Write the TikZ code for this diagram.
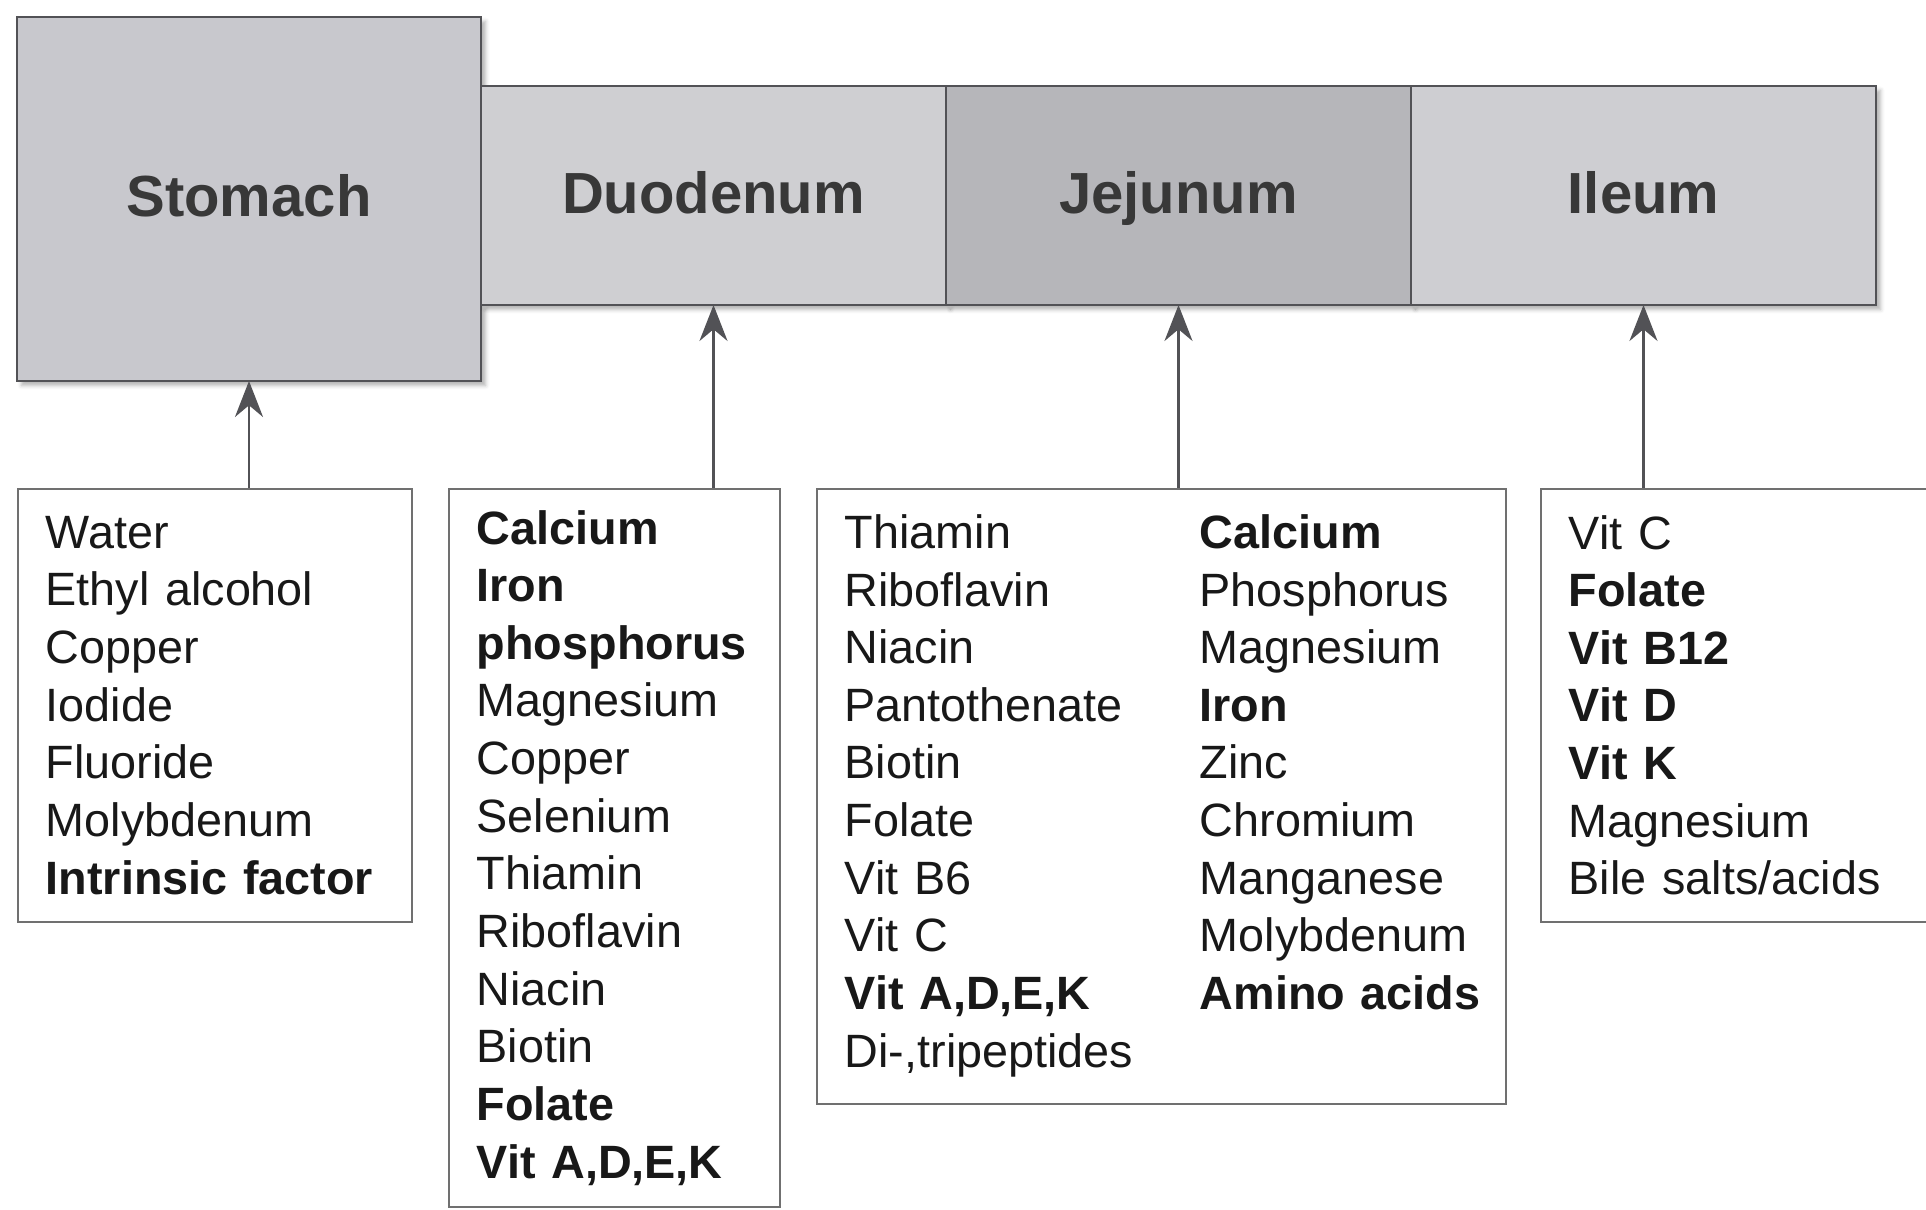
\documentclass[tikz,border=0pt]{standalone}
\usepackage{fontspec}
\setmainfont{Liberation Sans}
\usetikzlibrary{positioning,arrows.meta,shadows.blur}
\definecolor{gutEdge}{RGB}{82,82,86}
\definecolor{stomachGrey}{RGB}{200,200,205}
\definecolor{duoGrey}{RGB}{207,207,210}
\definecolor{jejGrey}{RGB}{182,182,186}
\definecolor{ileGrey}{RGB}{206,206,210}
\definecolor{listEdge}{RGB}{112,112,112}
\definecolor{inkGrey}{RGB}{24,24,24}

\tikzset{
  organ/.style={draw=gutEdge,line width=1.1pt,outer sep=0pt,inner sep=0pt,
    minimum width=9.3cm,minimum height=4.38cm,text height=20pt,text depth=0pt,
    font=\fontsize{33}{38}\selectfont\bfseries,text=black!78,
    blur shadow={shadow xshift=0.09cm,shadow yshift=-0.09cm,shadow blur radius=0.08cm,shadow opacity=30}},
  listbox/.style={draw=listEdge,line width=0.9pt,anchor=north west,
    inner xsep=0.56cm,inner ysep=0pt,align=left,text=inkGrey,
    font=\fontsize{26.6}{32.8}\selectfont},
  feed/.style={-{Stealth[length=0.72cm,width=0.56cm]},draw=gutEdge,line width=1.5pt}
}

\begin{document}
\begin{tikzpicture}
\useasboundingbox (0,0) rectangle (38.52,24.2);

% gut segments
\node[organ,fill=stomachGrey,minimum width=9.28cm,minimum height=7.28cm] (stomach) at (4.98,20.22) {Stomach};
\node[organ,fill=duoGrey,anchor=west] (duodenum) at (9.62,20.29) {Duodenum};
\node[organ,fill=jejGrey,right=0pt of duodenum] (jejunum) {Jejunum};
\node[organ,fill=ileGrey,right=0pt of jejunum] (ileum) {Ileum};

% what is absorbed where
\node[listbox,text width=6.76cm,minimum height=8.66cm] (stomachlist) at (0.34,14.44) {
Water\\Ethyl alcohol\\Copper\\Iodide\\Fluoride\\Molybdenum\\\textbf{Intrinsic factor}};
\node[listbox,text width=5.5cm,minimum height=14.36cm] (duodenumlist) at (8.96,14.44) {
\textbf{Calcium}\\\textbf{Iron}\\\textbf{phosphorus}\\Magnesium\\Copper\\Selenium\\Thiamin\\Riboflavin\\Niacin\\Biotin\\\textbf{Folate}\\\textbf{Vit A,D,E,K}};
\node[listbox,text width=12.66cm,minimum height=12.3cm] (jejunumlist) at (16.32,14.44) {
\begin{tabular}{@{}p{7.1cm}@{}l@{}}
Thiamin & \textbf{Calcium}\\
Riboflavin & Phosphorus\\
Niacin & Magnesium\\
Pantothenate & \textbf{Iron}\\
Biotin & Zinc\\
Folate & Chromium\\
Vit B6 & Manganese\\
Vit C & Molybdenum\\
\textbf{Vit A,D,E,K} & \textbf{Amino acids}\\
Di-,tripeptides &
\end{tabular}};
\node[listbox,text width=7cm,minimum height=8.66cm] (ileumlist) at (30.8,14.44) {
Vit C\\\textbf{Folate}\\\textbf{Vit B12}\\\textbf{Vit D}\\\textbf{Vit K}\\Magnesium\\Bile salts/acids};

% arrows up to the segments
\draw[feed] (stomachlist.north -| stomach.south) -- (stomach.south);
\draw[feed] (duodenumlist.north -| duodenum.south) -- (duodenum.south);
\draw[feed] (jejunumlist.north -| jejunum.south) -- (jejunum.south);
\draw[feed] (ileumlist.north -| ileum.south) -- (ileum.south);
\end{tikzpicture}
\end{document}
